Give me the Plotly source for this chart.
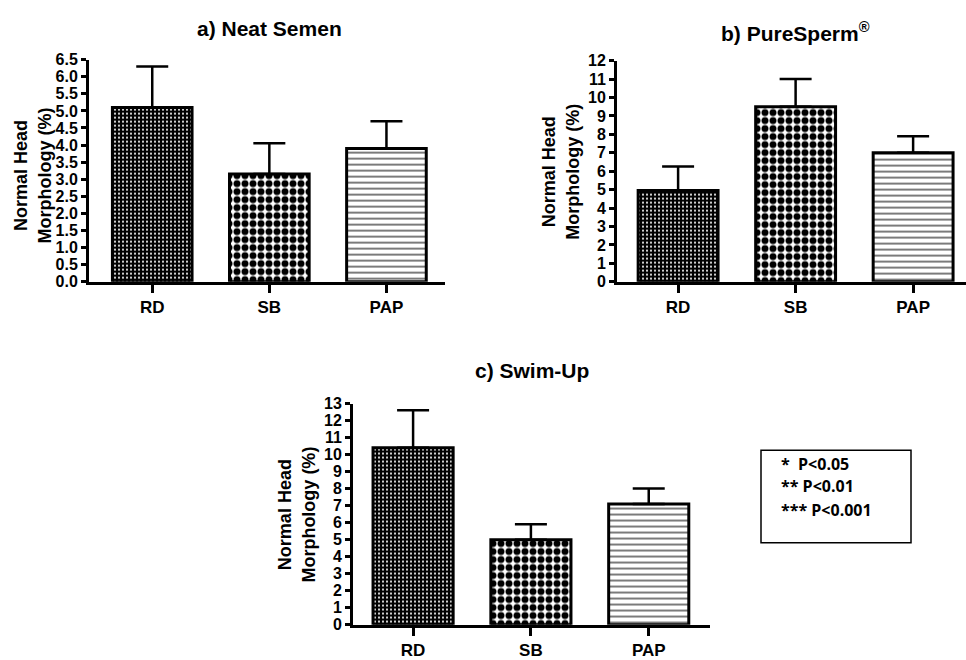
import plotly.graph_objects as go

# ---- data ----
categories = ["RD", "SB", "PAP"]
neat_mean = [5.1, 3.15, 3.9]
neat_err = [1.2, 0.9, 0.8]
pure_mean = [4.95, 9.5, 7.0]
pure_err = [1.3, 1.5, 0.9]
swim_mean = [10.4, 5.0, 7.1]
swim_err = [2.2, 0.9, 0.9]
titles = ["a) Neat Semen", "b) PureSperm<sup>®</sup>", "c) Swim-Up"]
legend_lines = ["*  P<0.05", "** P<0.01", "*** P<0.001"]

W, H = 966, 660
def px(x):
    return x / W
def py(y):
    return 1 - y / H

FONT = "Liberation Sans"

pattern = dict(
    shape=[".", ".", "-"],
    fgcolor=["white", "black", "#222222"],
    bgcolor=["black", "white", "white"],
    fgopacity=1,
    size=[4, 8, 6],
    solidity=[0.22, 0.6, 0.2],
)

fig = go.Figure()

panels = [
    dict(mean=neat_mean, err=neat_err, xa="x", ya="y",
         xdom=[px(89), px(445)], ydom=[py(281), py(53)],
         xr=[-0.54, 2.5], yr=[0, 6.5], dtick=0.5, fmt=".1f"),
    dict(mean=pure_mean, err=pure_err, xa="x2", ya="y2",
         xdom=[px(617), px(966)], ydom=[py(281), py(54)],
         xr=[-0.52, 2.45], yr=[0, 12], dtick=1, fmt="d"),
    dict(mean=swim_mean, err=swim_err, xa="x3", ya="y3",
         xdom=[px(353), px(710)], ydom=[py(633), py(406)],
         xr=[-0.51, 2.52], yr=[0, 13], dtick=1, fmt="d"),
]

for i, p in enumerate(panels):
    fig.add_trace(go.Bar(
        x=categories, y=p["mean"], xaxis=p["xa"], yaxis=p["ya"],
        width=0.68,
        marker=dict(color="white", line=dict(color="black", width=3),
                    pattern=pattern),
        error_y=dict(type="data", symmetric=False, array=p["err"],
                     arrayminus=[0, 0, 0], color="black", thickness=2.5, width=16),
        showlegend=False,
    ))
    sfx = "" if i == 0 else str(i + 1)
    fig.layout["xaxis" + sfx] = dict(
        domain=p["xdom"], range=p["xr"], anchor=p["ya"],
        showline=True, linewidth=3, linecolor="black",
        ticks="outside", ticklen=8, tickwidth=2.5, tickcolor="black",
        showgrid=False, zeroline=False, fixedrange=True,
        tickfont=dict(family=FONT, size=17, color="black", weight="bold"),
    )
    fig.layout["yaxis" + sfx] = dict(
        domain=p["ydom"], range=p["yr"], anchor=p["xa"],
        dtick=p["dtick"], tick0=0, tickformat=p["fmt"],
        showline=True, linewidth=3, linecolor="black",
        ticks="outside", ticklen=5, tickwidth=2.5, tickcolor="black",
        showgrid=False, zeroline=False, fixedrange=True,
        tickfont=dict(family=FONT, size=16, color="black", weight="bold"),
    )

annotations = []
title_pos = [(269, 21), (795, 25), (532, 372)]
for t, (x, y) in zip(titles, title_pos):
    annotations.append(dict(text="<b>" + t + "</b>", x=px(x), y=py(y), xref="paper", yref="paper",
                            showarrow=False, xanchor="center", yanchor="middle",
                            font=dict(family=FONT, size=21, color="black")))
ylab_pos = [(33, 172), (561, 168), (297, 520)]
for (x, y) in ylab_pos:
    annotations.append(dict(text="<b>Normal Head</b><br><b>Morphology (%)</b>", x=px(x), y=py(y),
                            xref="paper", yref="paper", showarrow=False, textangle=-90,
                            xanchor="center", yanchor="middle",
                            font=dict(family=FONT, size=18, color="black")))
for line, y in zip(legend_lines, [468, 491, 515]):
    annotations.append(dict(text="<b>" + line + "</b>", x=px(779), y=py(y), xref="paper", yref="paper",
                            showarrow=False, xanchor="left", yanchor="middle",
                            font=dict(family="Open Sans", size=16, color="black", weight="bold")))

fig.update_layout(
    width=W, height=H, margin=dict(l=0, r=0, t=0, b=0),
    paper_bgcolor="white", plot_bgcolor="white",
    annotations=annotations,
    shapes=[dict(type="rect", xref="paper", yref="paper",
                 x0=px(761), x1=px(911), y0=py(549), y1=py(454),
                 line=dict(color="black", width=1.5))],
)

fig.write_html("out.html")
